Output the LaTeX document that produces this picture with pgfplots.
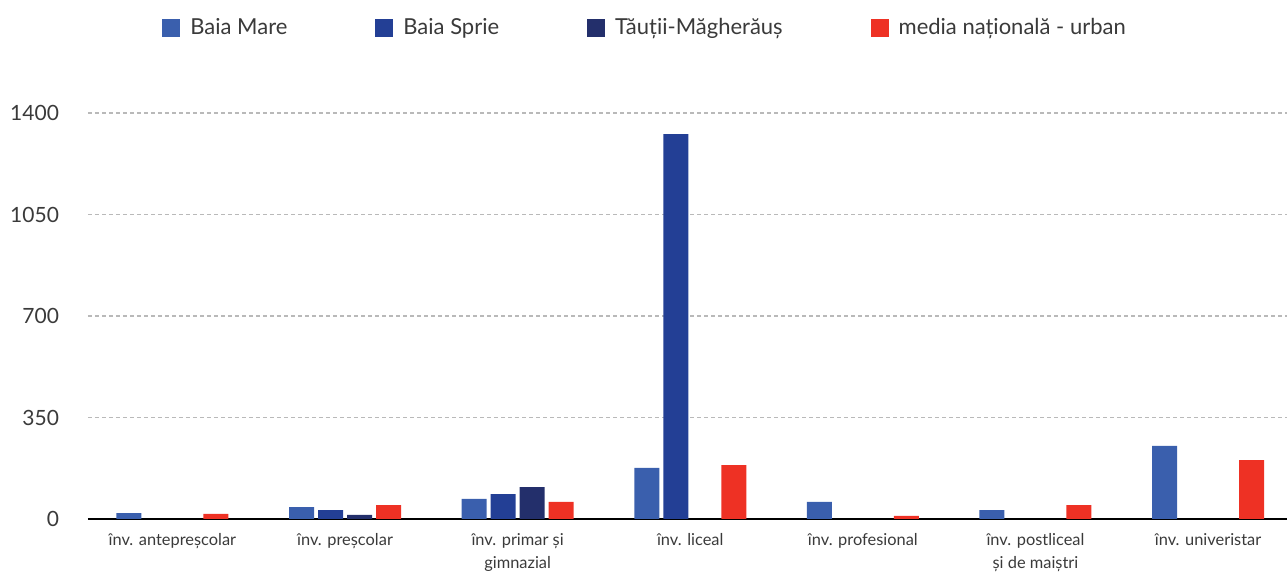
\documentclass[border=0pt]{standalone}
\usepackage{pgfplots}
\pgfplotsset{compat=1.18}
\usepackage{fontspec}
\setmainfont{Lato}
\definecolor{cBM}{HTML}{3A5FAD}
\definecolor{cBS}{HTML}{233F95}
\definecolor{cTM}{HTML}{232F6B}
\definecolor{cRO}{HTML}{EE3124}
\definecolor{txt}{HTML}{3A3A3A}
\begin{document}
\begin{tikzpicture}
\clip (-44pt,-27pt) rectangle (599.5pt,259.5pt);
\begin{axis}[
  scale only axis,
  width=599.5pt, height=203pt,
  xmin=-0.489, xmax=6.457,
  ymin=0, ymax=1400,
  ytick={0,350,700,1050,1400},
  xtick={0,1,2,3,4,5,6},
  xticklabels={înv. antepreșcolar, înv. preșcolar, {înv. primar și\\gimnazial}, înv. liceal, înv. profesional, {înv. postliceal\\și de maiștri}, înv. univeristar},
  xticklabel style={align=center, font=\fontsize{8.2}{11.5}\selectfont, text=txt, yshift=-3.5pt},
  yticklabel style={font=\fontsize{10.5}{12}\selectfont, text=txt, xshift=-11pt},
  /pgf/number format/assume math mode=true,
  /pgf/number format/1000 sep={},
  axis x line*=bottom, axis y line*=left,
  y axis line style={draw=none},
  x axis line style={-, line width=1.3pt, black},
  major tick length=0pt,
  ymajorgrids,
  grid style={gray!55, dash pattern=on 2pt off 1.5pt, line width=0.6pt},
  ybar=2pt, bar width=12.5pt,
  legend columns=4,
  legend style={at={(0.0617,1.245)}, anchor=north west, draw=none, inner sep=0pt,
    font=\fontsize{11}{12}\selectfont, text=txt,
    /tikz/every even column/.append style={column sep=42pt}},
  legend image code/.code={\fill[#1] (0pt,-4.5pt) rectangle (9pt,4.5pt); \path (12pt,0pt);},
  legend cell align=left,
]
\addplot[fill=cBM, draw=none] coordinates {(0,20) (1,41) (2,69) (3,176) (4,59) (5,31) (6,252)};
\addplot[fill=cBS, draw=none] coordinates {(1,31) (2,86) (3,1327)};
\addplot[fill=cTM, draw=none] coordinates {(1,14) (2,110)};
\addplot[fill=cRO, draw=none] coordinates {(0,18) (1,48) (2,59) (3,186) (4,11) (5,48) (6,203)};
\legend{Baia Mare, Baia Sprie, Tăuții-Măgherăuș, media națională - urban}
\end{axis}
\end{tikzpicture}
\end{document}
